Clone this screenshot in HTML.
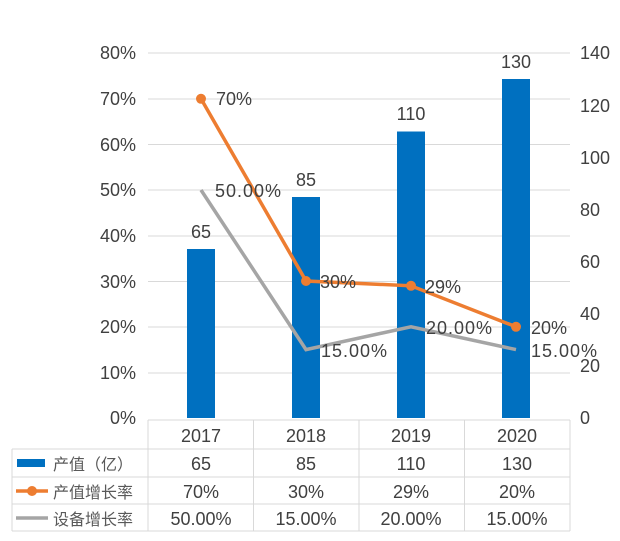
<!DOCTYPE html>
<html><head><meta charset="utf-8"><style>body{margin:0;background:#fff}</style></head><body>
<svg width="620" height="536" xmlns="http://www.w3.org/2000/svg" font-family="Liberation Sans, Noto Sans CJK SC, sans-serif" fill="#404040">
<g stroke="#d9d9d9" stroke-width="1">
<line x1="148" y1="53" x2="570" y2="53"/><line x1="148" y1="99" x2="570" y2="99"/><line x1="148" y1="144.5" x2="570" y2="144.5"/><line x1="148" y1="190" x2="570" y2="190"/><line x1="148" y1="236" x2="570" y2="236"/><line x1="148" y1="281.5" x2="570" y2="281.5"/><line x1="148" y1="327" x2="570" y2="327"/><line x1="148" y1="373" x2="570" y2="373"/>
</g>
<g font-size="18" text-anchor="end">
<text x="136" y="424">0%</text><text x="136" y="379">10%</text><text x="136" y="333">20%</text><text x="136" y="288">30%</text><text x="136" y="242">40%</text><text x="136" y="196">50%</text><text x="136" y="151">60%</text><text x="136" y="105">70%</text><text x="136" y="59">80%</text>
</g>
<g font-size="18" text-anchor="start">
<text x="580" y="424">0</text><text x="580" y="372">20</text><text x="580" y="320">40</text><text x="580" y="268">60</text><text x="580" y="216">80</text><text x="580" y="164">100</text><text x="580" y="112">120</text><text x="580" y="59">140</text>
</g>
<g fill="#0070c0">
<rect x="187" y="249" width="28" height="169"/><rect x="292" y="197" width="28" height="221"/><rect x="397" y="131.5" width="28" height="286.5"/><rect x="502" y="79" width="28" height="339"/>
</g>
<g font-size="18" text-anchor="middle">
<text x="201" y="238">65</text><text x="306" y="186">85</text><text x="411" y="120">110</text><text x="516" y="68">130</text>
</g>
<polyline points="201,190 306,349.6 411,326.8 516,349.6" fill="none" stroke="#a5a5a5" stroke-width="3.5"/>
<polyline points="201,98.8 306,281 411,285.8 516,326.8" fill="none" stroke="#ed7d31" stroke-width="3.5"/>
<g fill="#ed7d31"><circle cx="201" cy="98.8" r="5"/><circle cx="306" cy="281" r="5"/><circle cx="411" cy="285.8" r="5"/><circle cx="516" cy="326.8" r="5"/></g>
<g font-size="18">
<text x="216" y="105">70%</text><text x="320" y="288">30%</text><text x="425" y="293">29%</text><text x="531" y="334">20%</text>
<text x="215" y="197" letter-spacing="1">50.00%</text><text x="321" y="357" letter-spacing="1">15.00%</text><text x="426" y="334" letter-spacing="1">20.00%</text><text x="531" y="357" letter-spacing="1">15.00%</text>
</g>
<g stroke="#d9d9d9" stroke-width="1" fill="none">
<line x1="148" y1="420" x2="570" y2="420"/>
<line x1="12" y1="449" x2="570" y2="449"/><line x1="12" y1="477" x2="570" y2="477"/><line x1="12" y1="504" x2="570" y2="504"/><line x1="12" y1="531" x2="570" y2="531"/>
<line x1="12" y1="449" x2="12" y2="531"/><line x1="148" y1="420" x2="148" y2="531"/><line x1="253.5" y1="420" x2="253.5" y2="531"/><line x1="359" y1="420" x2="359" y2="531"/><line x1="464.5" y1="420" x2="464.5" y2="531"/><line x1="570" y1="420" x2="570" y2="531"/>
</g>
<g font-size="18" text-anchor="middle" fill="#404040">
<text x="201" y="442">2017</text><text x="306" y="442">2018</text><text x="411" y="442">2019</text><text x="517" y="442">2020</text>
<text x="201" y="470">65</text><text x="306" y="470">85</text><text x="411" y="470">110</text><text x="517" y="470">130</text>
<text x="201" y="498">70%</text><text x="306" y="498">30%</text><text x="411" y="498">29%</text><text x="517" y="498">20%</text>
<text x="201" y="525">50.00%</text><text x="306" y="525">15.00%</text><text x="411" y="525">20.00%</text><text x="517" y="525">15.00%</text>
</g>
<rect x="17" y="459" width="28" height="8" fill="#0070c0"/>
<line x1="16" y1="491" x2="48" y2="491" stroke="#ed7d31" stroke-width="3.5"/><circle cx="32" cy="491" r="5" fill="#ed7d31"/>
<line x1="16" y1="518" x2="48" y2="518" stroke="#a5a5a5" stroke-width="3.5"/>
<g font-size="16" fill="#595959">
<text x="53" y="470">产值（亿）</text><text x="53" y="498">产值增长率</text><text x="53" y="525">设备增长率</text>
</g>
</svg>
</body></html>
